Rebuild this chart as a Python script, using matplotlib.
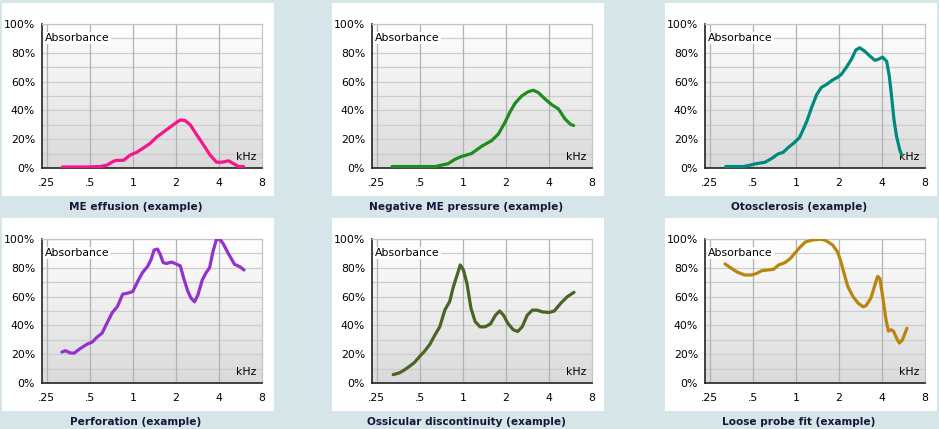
import numpy as np
import matplotlib
matplotlib.use("Agg")
import matplotlib.pyplot as plt
from matplotlib.patches import Rectangle
from matplotlib.colors import LinearSegmentedColormap

# ---------------- data (frequency kHz, absorbance %) ----------------
titles = ["ME effusion (example)", "Negative ME pressure (example)", "Otosclerosis (example)",
          "Perforation (example)", "Ossicular discontinuity (example)", "Loose probe fit (example)"]
colors = ["#f8148c", "#1e8c1e", "#00897e", "#9430cc", "#4a6424", "#b8860b"]

f1 = [0.322, 0.45, 0.59, 0.66, 0.73, 0.77, 0.86, 0.96, 1.07, 1.19, 1.32, 1.47, 1.64, 1.83, 1.98,
      2.14, 2.32, 2.52, 2.80, 3.12, 3.47, 3.85, 4.19, 4.67, 5.06, 5.50, 5.95]
a1 = [0.7, 0.7, 1.0, 2.0, 4.6, 5.3, 5.3, 9, 11, 14, 17, 21.5, 25, 28.5, 31,
      33.3, 33, 30, 23, 16, 9, 4, 4, 5, 3, 1, 1]

f2 = [0.32, 0.45, 0.64, 0.71, 0.79, 0.88, 0.98, 1.15, 1.35, 1.59, 1.77, 1.97, 2.13, 2.32, 2.58,
      2.87, 3.11, 3.37, 3.75, 4.18, 4.66, 5.19, 5.63, 5.95]
a2 = [1, 1, 1, 2, 3, 6, 8, 10, 15, 19, 23.5, 31.6, 38.6, 45, 50,
      53, 54, 52.4, 48, 44, 41, 34, 30.5, 29.5]

f3 = [0.324, 0.43, 0.48, 0.53, 0.61, 0.68, 0.75, 0.82, 0.88, 0.96, 1.06, 1.13, 1.20, 1.29, 1.40,
      1.51, 1.64, 1.80, 1.96, 2.08, 2.26, 2.45, 2.63, 2.80, 3.04, 3.29, 3.57, 3.78, 4.04, 4.32,
      4.50, 4.67, 4.85, 5.06, 5.35, 5.50]
a3 = [1, 1, 2, 3, 4, 6.7, 9.7, 11, 14, 17, 21, 27, 33, 42, 51,
      56, 58, 61, 63, 65, 70, 75.5, 82, 83.5, 81, 77.8, 74.8, 75.5, 77, 74,
      64, 50, 34, 22, 12, 9]

f4 = [0.32, 0.338, 0.367, 0.39, 0.43, 0.48, 0.52, 0.565, 0.61, 0.66, 0.72, 0.78, 0.85, 0.92, 1.0,
      1.08, 1.17, 1.27, 1.34, 1.41, 1.49, 1.56, 1.63, 1.72, 1.87, 2.0, 2.15, 2.27, 2.42, 2.55,
      2.70, 2.85, 3.06, 3.26, 3.44, 3.63, 3.83, 4.04, 4.27, 4.62, 5.14, 5.59, 5.99]
a4 = [21.5, 22.4, 20.8, 20.8, 24, 27, 28.4, 32, 34.6, 41.6, 49, 53, 61.7, 62.4, 63.5,
      70.4, 76.7, 81, 85.5, 92.4, 93, 89, 83.6, 83, 84, 82.7, 81.3, 72.7, 64, 59,
      56.4, 61, 71.6, 76.7, 80, 91, 99.3, 100, 97, 90.5, 82.4, 80.8, 78.5]

f5 = [0.326, 0.36, 0.39, 0.43, 0.46, 0.50, 0.54, 0.59, 0.64, 0.69, 0.75, 0.81, 0.86, 0.92, 0.96,
      1.01, 1.07, 1.14, 1.22, 1.32, 1.43, 1.56, 1.69, 1.81, 1.93, 2.06, 2.25, 2.42, 2.60, 2.82,
      3.06, 3.31, 3.59, 4.02, 4.36, 4.84, 5.39, 5.99]
a5 = [5.8, 7, 9, 12, 14.3, 18.5, 22, 27, 33.5, 39, 50.8, 56.6, 67, 76, 82,
      78.5, 69, 52, 42.7, 39, 39, 41, 47, 50, 47, 41.6, 37, 35.8, 39, 47,
      50.6, 50.6, 49.4, 49, 50, 55.4, 60, 63]

f6 = [0.32, 0.354, 0.39, 0.44, 0.49, 0.53, 0.58, 0.64, 0.70, 0.76, 0.84, 0.92, 0.99, 1.08, 1.17,
      1.31, 1.50, 1.62, 1.81, 1.96, 2.07, 2.19, 2.31, 2.51, 2.73, 2.95, 3.09, 3.35, 3.57, 3.73,
      3.87, 4.08, 4.27, 4.44, 4.63, 4.82, 5.07, 5.30, 5.57, 5.98]
a6 = [82.7, 79.7, 77, 75, 75, 76, 78, 78.5, 79, 82, 83.6, 86.6, 90.5, 94.7, 98,
      99.3, 99.8, 99, 95.8, 91, 84, 75, 67, 60, 55.4, 53, 53.6, 59, 68, 74,
      72.7, 57.7, 44, 36, 37, 36, 31, 27.7, 30, 38]

freqs = [f1, f2, f3, f4, f5, f6]
absorb = [a1, a2, a3, a4, a5, a6]

x_ticks = [0.25, 0.5, 1, 2, 4, 8]
x_labels = [".25", ".5", "1", "2", "4", "8"]
y_ticks = [0, 20, 40, 60, 80, 100]
y_labels = ["0%", "20%", "40%", "60%", "80%", "100%"]

# ---------------- layout ----------------
W, H = 939, 429
fig = plt.figure(figsize=(W / 100, H / 100), dpi=100)
fig.patch.set_facecolor("#d6e6e8")

card_left = [2, 332, 665]
card_top = [3, 218]
card_w, card_h = 272, 193
ax_off_x, ax_off_y, ax_w, ax_h = 40, 21, 220, 144

grad = np.linspace(1.0, 0.0, 256).reshape(-1, 1)
cmap = LinearSegmentedColormap.from_list("bg", ["#dadada", "#ffffff"])

for i in range(6):
    r, c = divmod(i, 3)
    cx, cy = card_left[c], card_top[r]
    fig.patches.append(Rectangle((cx / W, 1 - (cy + card_h) / H), card_w / W, card_h / H,
                                 transform=fig.transFigure, facecolor="white",
                                 edgecolor="none", zorder=0))
    axl = (cx + ax_off_x) / W
    axb = 1 - (cy + ax_off_y + ax_h) / H
    rect = [axl, axb, ax_w / W, ax_h / H]

    bg = fig.add_axes(rect, zorder=1)
    bg.imshow(grad, aspect="auto", cmap=cmap, extent=[0, 1, 0, 1], vmin=0, vmax=1)
    bg.axis("off")

    ax = fig.add_axes(rect, zorder=2)
    ax.set_facecolor("none")
    ax.set_xscale("log", base=2)
    ax.set_xlim(0.232, 8)
    ax.set_ylim(0, 100)
    for yv in range(10, 101, 10):
        ax.axhline(yv, color="#cdcdcd", lw=0.9, zorder=1)
    for xv in [0.25, 0.5, 1, 2, 4]:
        ax.axvline(xv, color="#b2b2b2", lw=0.9, zorder=1)
    ax.set_xticks(x_ticks)
    ax.set_xticklabels(x_labels)
    ax.minorticks_off()
    ax.set_yticks(y_ticks)
    ax.set_yticklabels(y_labels)
    ax.tick_params(length=0, labelsize=7.8, colors="#000000", pad=5)
    ax.tick_params(axis="x", pad=7)
    for s in ["top", "right"]:
        ax.spines[s].set_color("#c4c4c4")
        ax.spines[s].set_linewidth(0.9)
    for s in ["left", "bottom"]:
        ax.spines[s].set_color("#222222")
        ax.spines[s].set_linewidth(1.2)

    ax.plot(freqs[i], absorb[i], color=colors[i], lw=2.3, solid_joinstyle="round",
            solid_capstyle="round", zorder=3)

    ax.text(0.015, 0.905, "Absorbance", transform=ax.transAxes, fontsize=7.8,
            ha="left", va="center", zorder=4,
            bbox=dict(facecolor="white", edgecolor="none", pad=0.6))
    ax.text(0.975, 0.075, "kHz", transform=ax.transAxes, fontsize=7.8,
            ha="right", va="center", zorder=2)

    fig.text((cx + card_w / 2 - 2) / W, 1 - (cy + card_h + 11) / H, titles[i],
             ha="center", va="center", fontsize=7.6, fontweight="bold", color="#16163a")

fig.savefig("out.png", dpi=100, facecolor=fig.get_facecolor())
